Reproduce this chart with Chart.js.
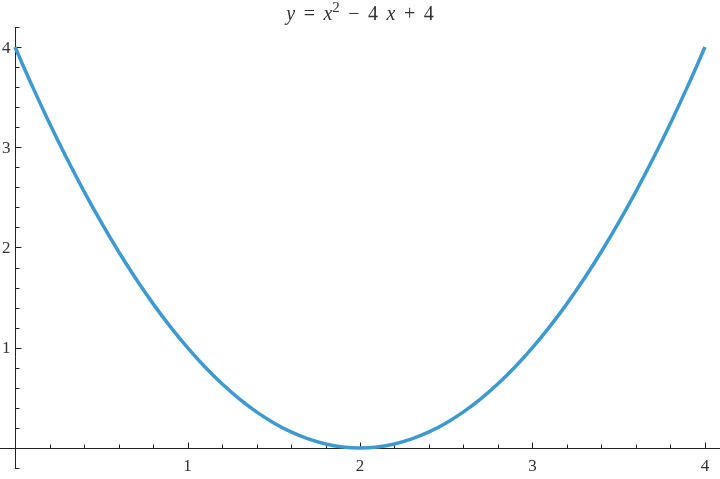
<!DOCTYPE html>
<html>
<head>
<meta charset="utf-8">
<script src="https://cdn.jsdelivr.net/npm/chart.js@4"></script>
<style>
  body { margin: 0; background: #fff; }
  #wrap { position: relative; width: 720px; height: 479px; }
  #tytul {
    position: absolute; left: 0; top: 3px; width: 720px; text-align: center;
    font-family: 'Liberation Serif', serif; font-size: 20px; line-height: 20px;
    color: #333; word-spacing: 3.5px;
  }
  #tytul i { font-style: italic; }
  #tytul sup { font-size: 15px; vertical-align: 8px; line-height: 0; }
</style>
</head>
<body>
<div id="wrap">
  <canvas id="wykres" width="720" height="479"></canvas>
  <div id="tytul"><i>y</i> = <i>x</i><sup>2</sup> − 4 <i>x</i> + 4</div>
</div>
<script>
// punkty
const xWartosci = [0, 0.1, 0.2, 0.3, 0.4, 0.5, 0.6, 0.7, 0.8, 0.9, 1, 1.1, 1.2, 1.3, 1.4, 1.5, 1.6, 1.7, 1.8, 1.9, 2,
  2.1, 2.2, 2.3, 2.4, 2.5, 2.6, 2.7, 2.8, 2.9, 3, 3.1, 3.2, 3.3, 3.4, 3.5, 3.6, 3.7, 3.8, 3.9, 4];
const yWartosci = [4, 3.61, 3.24, 2.89, 2.56, 2.25, 1.96, 1.69, 1.44, 1.21, 1, 0.81, 0.64, 0.49, 0.36, 0.25, 0.16, 0.09, 0.04, 0.01, 0,
  0.01, 0.04, 0.09, 0.16, 0.25, 0.36, 0.49, 0.64, 0.81, 1, 1.21, 1.44, 1.69, 1.96, 2.25, 2.56, 2.89, 3.24, 3.61, 4];
const xTicki = [1, 2, 3, 4];
const xEtykiety = ['1', '2', '3', '4'];
const yTicki = [1, 2, 3, 4];
const yEtykiety = ['1', '2', '3', '4'];
const xMinor = [0.2, 0.4, 0.6, 0.8, 1.2, 1.4, 1.6, 1.8, 2.2, 2.4, 2.6, 2.8, 3.2, 3.4, 3.6, 3.8];
const yMinor = [-0.2, 0.2, 0.4, 0.6, 0.8, 1.2, 1.4, 1.6, 1.8, 2.2, 2.4, 2.6, 2.8, 3.2, 3.4, 3.6, 3.8, 4.2];

// osie w stylu Mathematica (przecinają się w 0,0)
const osiePlugin = {
  id: 'osie',
  beforeDatasetsDraw(chart) {
    const ctx = chart.ctx;
    const sx = chart.scales.x;
    const sy = chart.scales.y;
    const x0 = Math.round(sx.getPixelForValue(0)) + 0.5;
    const y0 = Math.round(sy.getPixelForValue(0)) + 0.5;
    ctx.save();
    ctx.strokeStyle = '#222';
    ctx.lineWidth = 1;
    ctx.beginPath();
    ctx.moveTo(chart.chartArea.left, y0);
    ctx.lineTo(chart.chartArea.right, y0);
    ctx.moveTo(x0, chart.chartArea.top);
    ctx.lineTo(x0, chart.chartArea.bottom);

    xTicki.forEach(v => {
      const p = Math.round(sx.getPixelForValue(v)) + 0.5;
      ctx.moveTo(p, y0); ctx.lineTo(p, y0 - 6);
    });
    xMinor.forEach(v => {
      const p = Math.round(sx.getPixelForValue(v)) + 0.5;
      ctx.moveTo(p, y0); ctx.lineTo(p, y0 - 4);
    });
    yTicki.forEach(v => {
      const p = Math.round(sy.getPixelForValue(v)) + 0.5;
      ctx.moveTo(x0, p); ctx.lineTo(x0 + 6, p);
    });
    yMinor.forEach(v => {
      const p = Math.round(sy.getPixelForValue(v)) + 0.5;
      ctx.moveTo(x0, p); ctx.lineTo(x0 + 4, p);
    });
    ctx.stroke();

    ctx.fillStyle = '#333';
    ctx.font = '17px "Liberation Serif", serif';
    ctx.textAlign = 'center';
    ctx.textBaseline = 'top';
    xTicki.forEach((v, i) => {
      ctx.fillText(xEtykiety[i], sx.getPixelForValue(v), y0 + 10);
    });
    ctx.textAlign = 'right';
    ctx.textBaseline = 'middle';
    yTicki.forEach((v, i) => {
      ctx.fillText(yEtykiety[i], x0 - 5, sy.getPixelForValue(v) + 1);
    });
    ctx.restore();
  }
};

window.onload = () => {
  const ctx = document.getElementById('wykres').getContext('2d');
  new Chart(ctx, {
    type: 'scatter',
    data: {
      datasets: [{
        data: xWartosci.map((x, i) => ({ x, y: yWartosci[i] })),
        showLine: true,
        borderColor: '#3d9ad1',
        borderWidth: 3.5,
        pointRadius: 0,
        tension: 0.4,
        fill: false,
        clip: false
      }]
    },
    options: {
      responsive: false,
      animation: false,
      devicePixelRatio: 1,
      layout: { padding: { top: 27, bottom: 10, left: 0, right: 0 } },
      plugins: { legend: { display: false }, tooltip: { enabled: false }, title: { display: false } },
      scales: {
        x: { type: 'linear', min: -0.087, max: 4.087, display: false },
        y: { type: 'linear', min: -0.21, max: 4.2, display: false }
      }
    },
    plugins: [osiePlugin]
  });
};
</script>
</body>
</html>
